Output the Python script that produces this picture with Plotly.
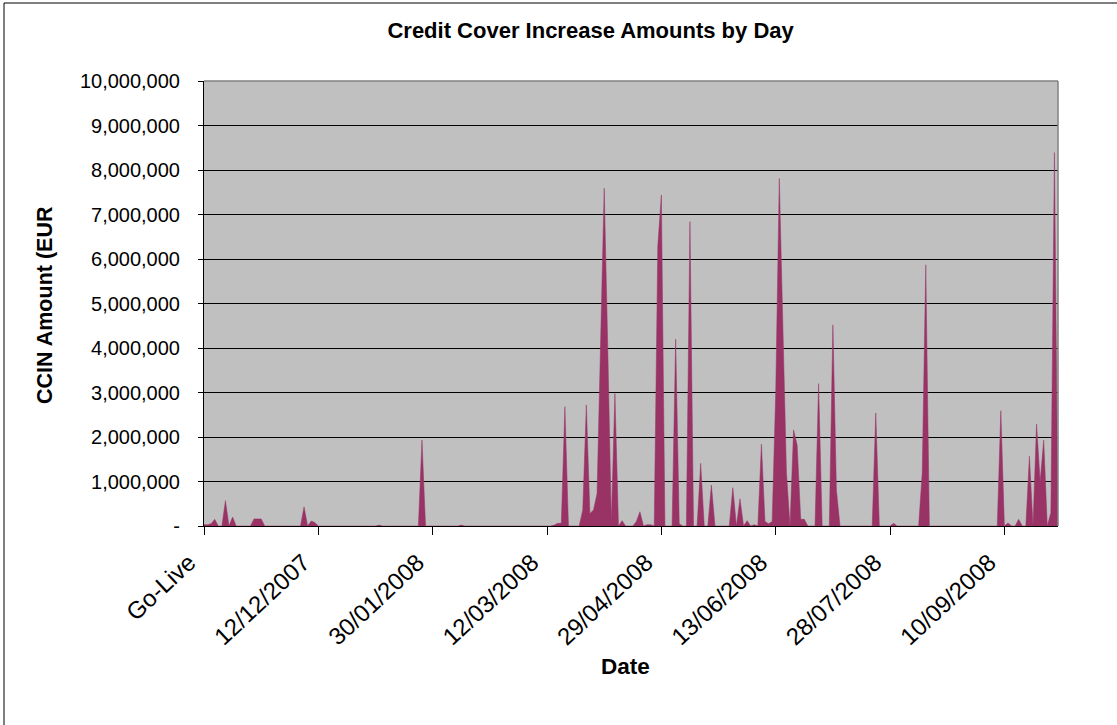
import plotly.graph_objects as go

# ---- data (one value per business day since Go-Live, EUR) ----
ccin_amounts = [
    30000, 30000, 50000, 150000, 0, 0, 570000, 0, 200000, 0, 0, 0, 0, 0, 160000, 160000, 160000, 0, 0, 0,
    0, 0, 0, 0, 0, 0, 0, 0, 430000, 0, 110000, 80000, 0, 0, 0, 0, 0, 0, 0, 0,
    0, 0, 0, 0, 0, 0, 0, 0, 0, 20000, 0, 0, 0, 0, 0, 0, 0, 0, 0, 0,
    0, 1930000, 0, 0, 0, 0, 0, 0, 0, 0, 0, 0, 20000, 0, 0, 0, 0, 0, 0, 0,
    0, 0, 0, 0, 0, 0, 0, 0, 0, 0, 0, 0, 0, 0, 0, 0, 0, 0, 20000, 60000,
    60000, 2680000, 0, 0, 0, 0, 360000, 2720000, 280000, 360000, 730000, 4200000, 7590000, 4000000, 100000, 2980000, 0, 120000, 0, 0,
    0, 100000, 320000, 0, 30000, 30000, 0, 6300000, 7440000, 0, 0, 0, 4200000, 50000, 0, 0, 6840000, 0, 0, 1410000,
    0, 0, 920000, 0, 0, 0, 0, 0, 860000, 0, 610000, 0, 120000, 0, 30000, 0, 1840000, 100000, 50000, 100000,
    3000000, 7810000, 4500000, 1200000, 0, 2160000, 1820000, 150000, 150000, 0, 0, 0, 3200000, 0, 0, 0, 4520000, 800000, 0, 0,
    0, 0, 0, 0, 0, 0, 0, 0, 2540000, 0, 0, 0, 0, 60000, 0, 0, 0, 0, 0, 0,
    0, 1200000, 5870000, 0, 0, 0, 0, 0, 0, 0, 0, 0, 0, 0, 0, 0, 0, 0, 0, 0,
    0, 0, 0, 2590000, 0, 70000, 0, 0, 150000, 0, 0, 1570000, 0, 2290000, 1000000, 1930000, 0, 300000, 8390000, 0,
]
day_index = list(range(len(ccin_amounts)))

x_tick_labels = ["Go-Live", "12/12/2007", "30/01/2008", "12/03/2008",
                 "29/04/2008", "13/06/2008", "28/07/2008", "10/09/2008"]
x_label_step = 32  # a label every 32 categories
x_tick_positions = [i * x_label_step for i in range(len(x_tick_labels))]

y_tick_values = [0, 1000000, 2000000, 3000000, 4000000, 5000000,
                 6000000, 7000000, 8000000, 9000000, 10000000]
y_tick_labels = ["-", "1,000,000", "2,000,000", "3,000,000", "4,000,000", "5,000,000",
                 "6,000,000", "7,000,000", "8,000,000", "9,000,000", "10,000,000"]

FONT = "Liberation Sans, Arial, sans-serif"
W, H = 1117, 725
L, R, T, B = 204, 59, 81, 199
pw, ph = W - L - R, H - T - B

fig = go.Figure()
fig.add_trace(go.Scatter(
    x=day_index, y=ccin_amounts, mode="lines", fill="tozeroy",
    fillcolor="#993366", line=dict(color="#993366", width=0.5),
    hoverinfo="skip", showlegend=False,
))

fig.update_layout(
    width=W, height=H,
    margin=dict(l=L, r=R, t=T, b=B, pad=0),
    paper_bgcolor="white", plot_bgcolor="#C0C0C0",
    font=dict(family=FONT, color="black"),
    title=dict(text="<b>Credit Cover Increase Amounts by Day</b>",
               font=dict(size=22, family=FONT, color="black"),
               xref="container", x=590.6 / W, xanchor="center",
               yref="container", y=1 - 30.5 / H, yanchor="middle"),
    xaxis=dict(range=[0, len(ccin_amounts) - 1], tickmode="array",
               tickvals=x_tick_positions, ticktext=x_tick_labels,
               tickangle=-43, tickfont=dict(size=24, family=FONT),
               ticks="outside", ticklen=8, tickcolor="black", tickwidth=1,
               showline=True, linecolor="black", linewidth=1,
               showgrid=False, zeroline=False,
               ticklabelstandoff=4, ticklabelshift=-15),
    yaxis=dict(range=[0, 10000000], tickmode="array",
               tickvals=y_tick_values, ticktext=y_tick_labels,
               tickfont=dict(size=20, family=FONT),
               ticks="outside", ticklen=5, tickcolor="black", tickwidth=1,
               showline=True, linecolor="black", linewidth=1,
               showgrid=True, gridcolor="black", gridwidth=1,
               zeroline=False, ticklabelstandoff=14),
    annotations=[
        dict(text="<b>CCIN Amount (EUR</b>", textangle=-90, showarrow=False,
             xref="paper", yref="paper", x=(45 - L) / pw, y=(T + ph - 305) / ph,
             xanchor="center", yanchor="middle", font=dict(size=21.5, family=FONT)),
        dict(text="<b>Date</b>", showarrow=False,
             xref="paper", yref="paper", x=(625 - L) / pw, y=(T + ph - 666) / ph,
             xanchor="center", yanchor="middle", font=dict(size=22.5, family=FONT)),
    ],
    shapes=[
        # plot-area frame (top and right, grey)
        dict(type="line", xref="paper", yref="paper", x0=0, x1=1, y0=1, y1=1,
             line=dict(color="#808080", width=1.5), layer="above"),
        dict(type="line", xref="paper", yref="paper", x0=1, x1=1, y0=0, y1=1,
             line=dict(color="#808080", width=1.5), layer="above"),
        # chart-area frame (left and top)
        dict(type="line", xref="paper", yref="paper",
             x0=(4 - L) / pw, x1=(4 - L) / pw, y0=(T + ph - 3) / ph, y1=(T + ph - H) / ph,
             line=dict(color="black", width=1)),
        dict(type="line", xref="paper", yref="paper",
             x0=(4 - L) / pw, x1=(W - L) / pw, y0=(T + ph - 3) / ph, y1=(T + ph - 3) / ph,
             line=dict(color="black", width=1)),
    ],
)

fig.write_html("out.html", config={"displayModeBar": False},
               post_script="document.body.style.margin='0';document.body.style.overflow='hidden';")
